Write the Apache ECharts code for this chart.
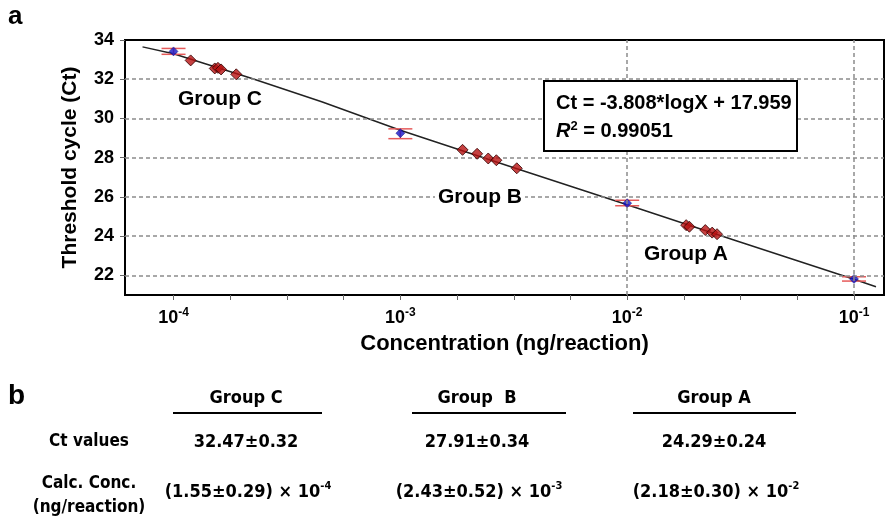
<!DOCTYPE html>
<html><head><meta charset="utf-8">
<script src="https://cdn.jsdelivr.net/npm/echarts@6/dist/echarts.min.js"></script>
<style>html,body{margin:0;padding:0;background:#fff}#c{width:894px;height:522px}</style>
</head><body><div id="c"></div>
<script>
// ---- data ----
const yTickValues = [22, 24, 26, 28, 30, 32, 34];
const xMajorTicks = [1e-4, 1e-3, 1e-2, 1e-1];
const xMinorExponents = [-4, -3.75, -3.5, -3.25, -3, -2.75, -2.5, -2.25, -2, -1.75, -1.5, -1.25, -1];

const fitConc = [7.3e-5, 1e-4, 2.2e-4, 4.5e-4, 1e-3, 3e-3, 1e-2, 3e-2, 1e-1, 0.125];
const fitCt   = [33.65, 33.30, 32.05, 30.85, 29.40, 27.58, 25.60, 23.78, 21.80, 21.42];

const standardConc   = [1e-4, 1e-3, 1e-2, 1e-1];
const standardCt     = [33.42, 29.25, 25.68, 21.82];
const standardCtLow  = [33.27, 28.97, 25.55, 21.71];
const standardCtHigh = [33.57, 29.47, 25.83, 21.93];

const groupCConc = [1.19e-4, 1.52e-4, 1.57e-4, 1.62e-4, 1.89e-4];
const groupCCt   = [32.96, 32.55, 32.58, 32.50, 32.25];
const groupBConc = [1.88e-3, 2.18e-3, 2.44e-3, 2.65e-3, 3.26e-3];
const groupBCt   = [28.40, 28.20, 27.96, 27.87, 27.46];
const groupAConc = [1.82e-2, 1.88e-2, 2.21e-2, 2.37e-2, 2.49e-2];
const groupACt   = [24.56, 24.48, 24.31, 24.18, 24.10];

const groupLabels = ['Group C', 'Group B', 'Group A'];
const equationText = 'Ct = -3.808*logX + 17.959';
const r2Text = ' = 0.99051';

const tableHeaders = ['Group C', 'Group  B', 'Group A'];
const tableRowLabels = ['Ct values', 'Calc. Conc.', '(ng/reaction)'];
const tableCtValues = ['32.47\u00B10.32', '27.91\u00B10.34', '24.29\u00B10.24'];
const tableConcMantissa = ['(1.55\u00B10.29) \u00D7 10', '(2.43\u00B10.52) \u00D7 10', '(2.18\u00B10.30) \u00D7 10'];
const tableConcExponent = ['-4', '-3', '-2'];

// ---- chart ----
const FONT = 'Liberation Sans, Arial, Helvetica, sans-serif';
const NARROW = 'Liberation Sans Narrow, DejaVu Sans Condensed, Arial Narrow, sans-serif';
const chart = echarts.init(document.getElementById('c'), null, {renderer: 'canvas'});

const pairs = (xs, ys) => xs.map((x, i) => [x, ys[i]]);
const gridLines = yTickValues.filter(v => v < 34).map(v => ({yAxis: v}))
  .concat(xMajorTicks.map(v => ({xAxis: v})));

// table graphics
const colCenters = [246, 477, 714];
const underlines = [[173, 322], [412, 566], [633, 796]];
const tableGraphics = [];
tableHeaders.forEach((h, i) => {
  tableGraphics.push({type: 'text', x: colCenters[i], y: 398, style: {text: h, align: 'center', verticalAlign: 'middle', fontFamily: NARROW, fontWeight: 'bold', fontSize: 18, fill: '#000'}});
  tableGraphics.push({type: 'line', shape: {x1: underlines[i][0], y1: 413, x2: underlines[i][1], y2: 413}, style: {stroke: '#000', lineWidth: 2}});
  tableGraphics.push({type: 'text', x: colCenters[i], y: 442, style: {text: tableCtValues[i], align: 'center', verticalAlign: 'middle', fontFamily: NARROW, fontWeight: 'bold', fontSize: 18, fill: '#000'}});
  tableGraphics.push({type: 'text', x: colCenters[i] + 2, y: 492, style: {
    text: '{n|' + tableConcMantissa[i] + '}{s|' + tableConcExponent[i] + '}', align: 'center', verticalAlign: 'middle',
    rich: {n: {fontFamily: NARROW, fontWeight: 'bold', fontSize: 18, lineHeight: 22, fill: '#000'},
           s: {fontFamily: NARROW, fontWeight: 'bold', fontSize: 11, lineHeight: 12, verticalAlign: 'top', fill: '#000'}}}});
});
[[442, 0], [484, 1], [508, 2]].forEach(([y, k]) => {
  tableGraphics.push({type: 'text', x: 89, y: y, style: {text: tableRowLabels[k], align: 'center', verticalAlign: 'middle', fontFamily: NARROW, fontWeight: 'bold', fontSize: 17, fill: '#000'}});
});

const groupLabelPos = [[220, 99], [480, 197], [686, 254]];

const option = {
  animation: false,
  backgroundColor: '#fff',
  grid: {left: 125, right: 10, top: 40, bottom: 227, show: true, borderColor: '#000', borderWidth: 2, backgroundColor: 'transparent'},
  xAxis: {
    type: 'log', logBase: 10, min: 6.11e-5, max: 0.1356,
    name: 'Concentration (ng/reaction)', nameLocation: 'middle', nameGap: 38,
    nameTextStyle: {fontFamily: FONT, fontWeight: 'bold', fontSize: 22, color: '#000'},
    axisLine: {show: true, lineStyle: {color: '#000', width: 2}},
    axisTick: {show: true, length: 5, lineStyle: {color: '#666', width: 1}, customValues: xMinorExponents.map(e => Math.pow(10, e))},
    axisLabel: {
      customValues: xMajorTicks, margin: 12,
      formatter: v => '{b|10}{s|' + Math.round(Math.log10(v)) + '}',
      rich: {b: {fontFamily: FONT, fontWeight: 'bold', fontSize: 18, lineHeight: 22, color: '#000'},
             s: {fontFamily: FONT, fontWeight: 'bold', fontSize: 12, lineHeight: 12, verticalAlign: 'top', color: '#000'}}
    },
    splitLine: {show: false}, minorTick: {show: false}
  },
  yAxis: {
    type: 'value', min: 21, max: 34,
    name: 'Threshold cycle (Ct)', nameLocation: 'middle', nameGap: 44,
    nameTextStyle: {fontFamily: FONT, fontWeight: 'bold', fontSize: 21, color: '#000'},
    axisLine: {show: true, lineStyle: {color: '#000', width: 2}},
    axisTick: {show: true, length: 5, lineStyle: {color: '#666', width: 1}, customValues: yTickValues},
    axisLabel: {customValues: yTickValues, margin: 11, fontFamily: FONT, fontWeight: 'bold', fontSize: 18, color: '#000'},
    splitLine: {show: false}
  },
  series: [
    {type: 'line', data: [], silent: true, z: 1,
     markLine: {silent: true, symbol: 'none', label: {show: false},
       lineStyle: {type: [4, 3], color: '#8c8c8c', width: 1.5}, data: gridLines}},
    {type: 'line', data: pairs(fitConc, fitCt), symbol: 'none', silent: true, z: 2,
     lineStyle: {color: '#222', width: 1.5}},
    {type: 'custom', z: 3, silent: true,
     data: standardConc.map((c, i) => [c, standardCtLow[i], standardCtHigh[i]]),
     encode: {x: 0, y: [1, 2]},
     renderItem: (params, api) => {
       const lo = api.coord([api.value(0), api.value(1)]);
       const hi = api.coord([api.value(0), api.value(2)]);
       const w = 12;
       const st = {stroke: '#e65a5a', lineWidth: 1.5};
       return {type: 'group', children: [
         {type: 'line', shape: {x1: lo[0], y1: lo[1], x2: hi[0], y2: hi[1]}, style: st},
         {type: 'line', shape: {x1: lo[0] - w, y1: lo[1], x2: lo[0] + w, y2: lo[1]}, style: st},
         {type: 'line', shape: {x1: hi[0] - w, y1: hi[1], x2: hi[0] + w, y2: hi[1]}, style: st}
       ]};
     }},
    {type: 'scatter', z: 4, symbol: 'diamond', symbolSize: 9, data: pairs(standardConc, standardCt),
     itemStyle: {color: '#1414c8', borderColor: '#000060', borderWidth: 0.5}},
    {type: 'scatter', z: 5, symbol: 'diamond', symbolSize: 11,
     data: pairs(groupCConc, groupCCt).concat(pairs(groupBConc, groupBCt), pairs(groupAConc, groupACt)),
     itemStyle: {color: '#b81212', borderColor: '#300000', borderWidth: 1}}
  ],
  graphic: [
    {type: 'text', x: 8, y: 4, style: {text: 'a', fontFamily: FONT, fontWeight: 'bold', fontSize: 26, fill: '#000'}},
    {type: 'text', x: 8, y: 382, style: {text: 'b', fontFamily: FONT, fontWeight: 'bold', fontSize: 28, fill: '#000'}},
    ...groupLabels.map((t, i) => ({type: 'text', z: 10, x: groupLabelPos[i][0], y: groupLabelPos[i][1],
      style: {text: t, align: 'center', verticalAlign: 'middle', fontFamily: FONT, fontWeight: 'bold', fontSize: 21, fill: '#000',
        backgroundColor: '#fff', padding: [0, 3]}})),
    {type: 'rect', z: 10, shape: {x: 544, y: 81, width: 253, height: 70}, style: {fill: '#fff', stroke: '#000', lineWidth: 2}},
    {type: 'text', z: 11, x: 556, y: 103, style: {text: equationText, verticalAlign: 'middle', fontFamily: FONT, fontWeight: 'bold', fontSize: 20, fill: '#000'}},
    {type: 'text', z: 11, x: 556, y: 131, style: {text: '{i|R}{s|2}{n|' + r2Text + '}', verticalAlign: 'middle',
      rich: {i: {fontFamily: FONT, fontWeight: 'bold', fontStyle: 'italic', fontSize: 20, lineHeight: 22, fill: '#000'},
             s: {fontFamily: FONT, fontWeight: 'bold', fontSize: 13, lineHeight: 14, verticalAlign: 'top', fill: '#000'},
             n: {fontFamily: FONT, fontWeight: 'bold', fontSize: 20, lineHeight: 22, fill: '#000'}}}},
    ...tableGraphics
  ]
};
chart.setOption(option);
</script></body></html>
